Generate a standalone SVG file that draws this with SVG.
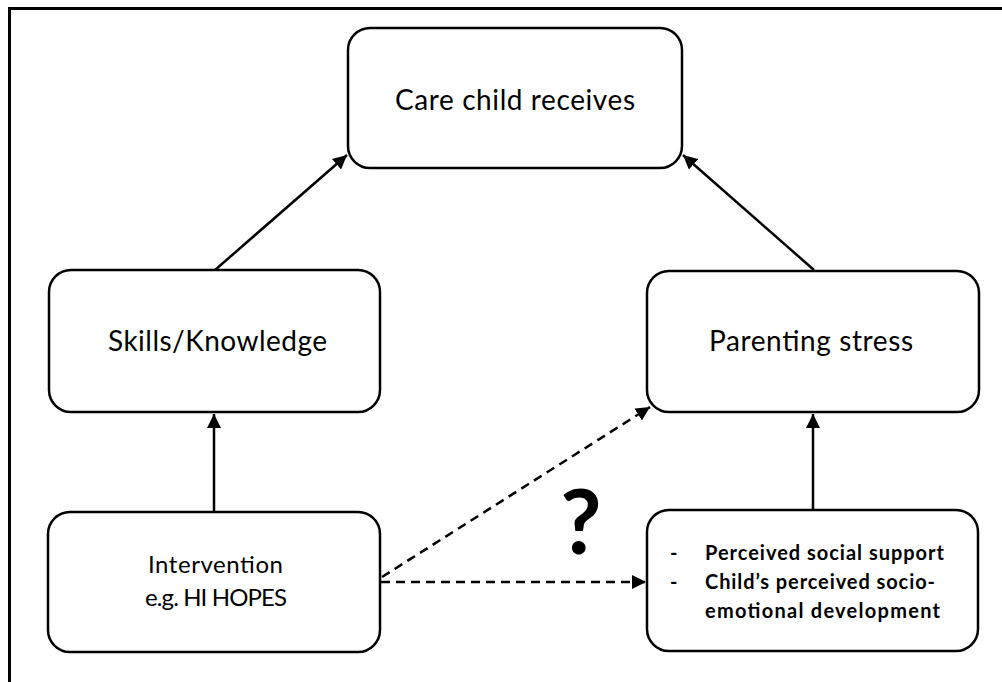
<svg xmlns="http://www.w3.org/2000/svg" width="1002" height="682" viewBox="0 0 1002 682">
<style>
.box{fill:#fff;stroke:#000;stroke-width:2.5}
.t{font-family:Lato,"Open Sans","Liberation Sans",sans-serif;fill:#000}
.big{font-size:28px}
.mid{font-size:24px}
.sm{font-size:20px;font-weight:bold}
.ln{stroke:#000;stroke-width:2.5;fill:none}
.dash{stroke-dasharray:9 6}
</style>
<defs>
<marker id="ah" viewBox="0 0 10 10" refX="10" refY="5" markerWidth="14" markerHeight="14" markerUnits="userSpaceOnUse" orient="auto">
<path d="M0,0 L10,5 L0,10 Z" fill="#000"/>
</marker>
</defs>
<rect width="1002" height="682" fill="#fff"/>
<path d="M9.5,682 V8.5 H1002" fill="none" stroke="#000" stroke-width="3"/>
<g id="connectors">
<line class="ln" x1="215" y1="270" x2="347" y2="155" marker-end="url(#ah)"/>
<line class="ln" x1="814" y1="270" x2="683" y2="155" marker-end="url(#ah)"/>
<line class="ln" x1="214" y1="512" x2="214" y2="414" marker-end="url(#ah)"/>
<line class="ln" x1="813" y1="510" x2="813" y2="414" marker-end="url(#ah)"/>
<line class="ln dash" x1="382" y1="577" x2="650" y2="407" marker-end="url(#ah)"/>
<line class="ln dash" x1="381" y1="582" x2="646" y2="582" marker-end="url(#ah)"/>
</g>
<g id="care">
<rect class="box" x="348" y="28" width="334" height="140" rx="22"/>
<text class="t big" x="515" y="110" text-anchor="middle" textLength="240">Care child receives</text>
</g>
<g id="skills">
<rect class="box" x="49" y="270" width="331" height="142" rx="22"/>
<text class="t big" x="217.5" y="351" text-anchor="middle" textLength="219">Skills/Knowledge</text>
</g>
<g id="stress">
<rect class="box" x="647" y="271" width="332" height="141" rx="22"/>
<text class="t big" x="811" y="351" text-anchor="middle" textLength="204">Parenting stress</text>
</g>
<g id="intervention">
<rect class="box" x="48" y="512" width="332" height="140" rx="22"/>
<text class="t mid" x="215.5" y="573" text-anchor="middle" textLength="135">Intervention</text>
<text class="t mid" x="216" y="606" text-anchor="middle" textLength="142">e.g. HI HOPES</text>
</g>
<g id="factors">
<rect class="box" x="647" y="510" width="331" height="141" rx="22"/>
<text class="t sm" x="670" y="560">-</text>
<text class="t sm" x="670" y="589">-</text>
<text class="t sm" x="705" y="560" textLength="239">Perceived social support</text>
<text class="t sm" x="705" y="589" textLength="230">Child’s perceived socio-</text>
<text class="t sm" x="705" y="618" textLength="235">emotional development</text>
</g>
<text id="q" class="t" x="581" y="554" text-anchor="middle" font-size="90" font-weight="bold">?</text>
</svg>
